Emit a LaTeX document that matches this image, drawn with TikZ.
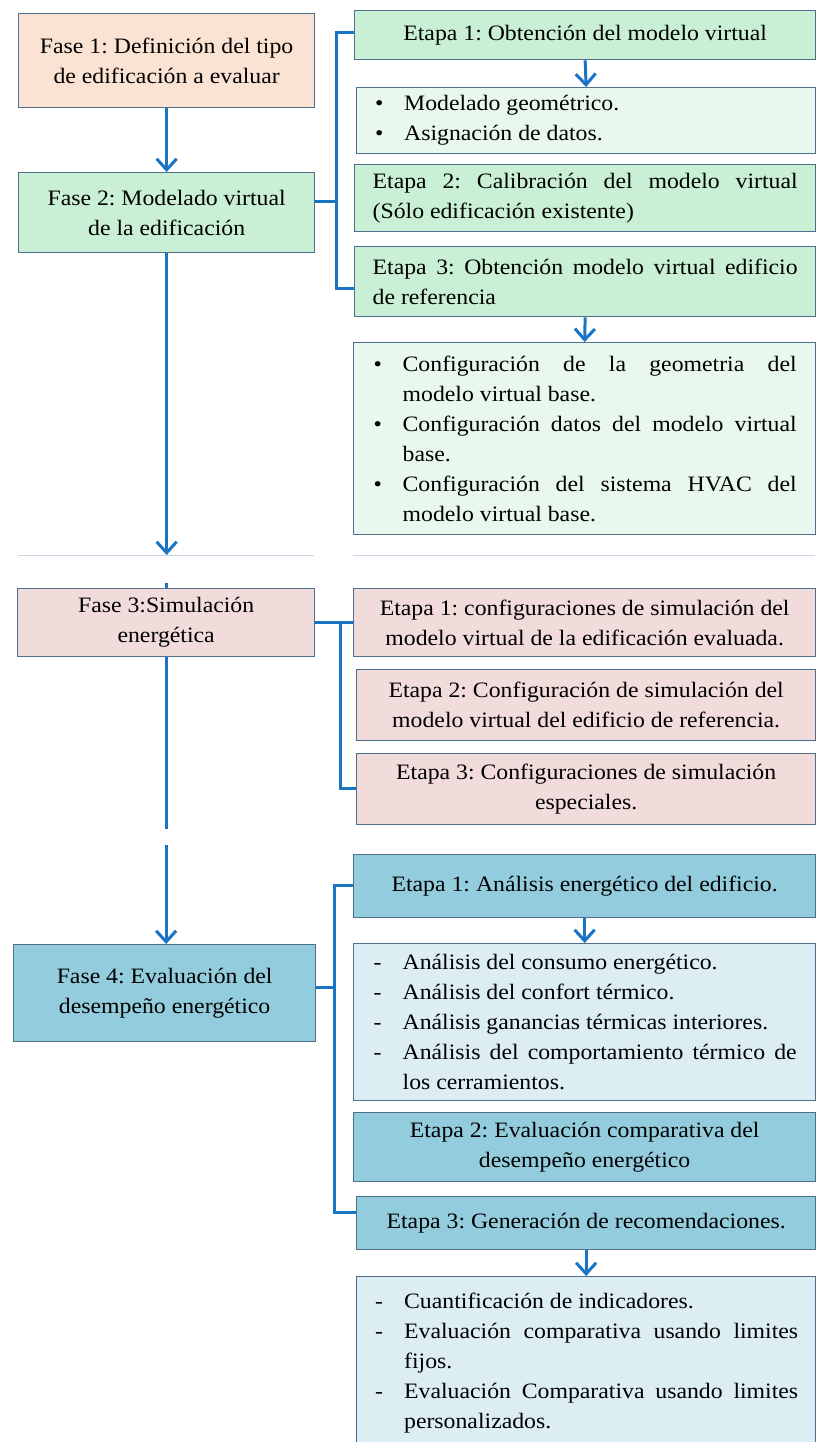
\documentclass[tikz,border=0pt]{standalone}
\usepackage{fontspec}
\setmainfont{Liberation Serif}[FakeStretch=1.08]
\usetikzlibrary{arrows.meta,calc}
\definecolor{peach}{HTML}{FBE3D3}
\definecolor{mint}{HTML}{C9F0D4}
\definecolor{mintlt}{HTML}{E9F8EE}
\definecolor{pinkbox}{HTML}{F2DCDB}
\definecolor{bluebox}{HTML}{93CDDD}
\definecolor{bluelt}{HTML}{DCEEF4}
\definecolor{bordc}{HTML}{4E6E8E}
\definecolor{linec}{HTML}{1A74C4}
\definecolor{faintc}{HTML}{C8D8E8}
\newcommand\bodyfont{\fontsize{22}{30}\selectfont\frenchspacing}
\newcommand\litem[2]{\noindent\hangindent=30pt\hangafter=1\makebox[30pt][l]{\hspace{1pt}#1}#2\par}
\tikzset{
  box/.style={draw=bordc, line width=1.3pt, inner sep=0pt, font=\bodyfont, align=center, anchor=north west},
  jbox/.style={box, text width=425pt, align=justify},
  conn/.style={draw=linec, line width=3pt},
  arr/.style={conn, -{Straight Barb[length=11pt,width=20pt]}},
  faint/.style={draw=faintc, line width=1pt}
}
\begin{document}
\begin{tikzpicture}[x=1pt,y=-1pt]
\clip (0,0) rectangle (817,1442);
\fill[white] (0,0) rectangle (817,1442);
% Fase 1 and 2
\node[box, fill=peach, minimum width=296pt, minimum height=94pt] (F1) at (18,13) {Fase 1: Definición del tipo\\ de edificación a evaluar};
\node[box, fill=mint, minimum width=296pt, minimum height=80pt] (F2) at (18,172) {Fase 2: Modelado virtual\\ de la edificación};
\node[box, fill=mint, minimum width=461pt, minimum height=49pt] (E1a) at (354,10) {Etapa 1: Obtención del modelo virtual};
\node[jbox, fill=mintlt, minimum width=459pt, minimum height=66pt, text width=424pt] (B1) at (356,87) {\litem{•}{Modelado geométrico.}\litem{•}{Asignación de datos.}};
\node[jbox, fill=mint, minimum width=461pt, minimum height=67pt] (E2a) at (354,164) {Etapa 2: Calibración del modelo virtual\linebreak (Sólo edificación existente)};
\node[jbox, fill=mint, minimum width=461pt, minimum height=70pt] (E3a) at (354,246) {Etapa 3: Obtención modelo virtual edificio\linebreak de referencia};
\node[jbox, fill=mintlt, minimum width=462pt, minimum height=192pt, text width=424pt] (B2) at (353,342) {\litem{•}{Configuración de la geometria del\linebreak modelo virtual base.}\litem{•}{Configuración datos del modelo virtual\linebreak base.}\litem{•}{Configuración del sistema HVAC del\linebreak modelo virtual base.}};
% Fase 3
\node[box, fill=pinkbox, minimum width=297pt, minimum height=68pt] (F3) at (17,588) {Fase 3:Simulación\\ energética};
\node[box, fill=pinkbox, minimum width=462pt, minimum height=68pt] (E1b) at (353,588) {Etapa 1: configuraciones de simulación del\\ modelo virtual de la edificación evaluada.};
\node[box, fill=pinkbox, minimum width=459pt, minimum height=71pt] (E2b) at (356,669) {Etapa 2: Configuración de simulación del\\ modelo virtual del edificio de referencia.};
\node[box, fill=pinkbox, minimum width=459pt, minimum height=71pt] (E3b) at (356,753) {Etapa 3: Configuraciones de simulación\\ especiales.};
% Fase 4
\node[box, fill=bluebox, minimum width=302pt, minimum height=97pt] (F4) at (13,944) {Fase 4: Evaluación del\\ desempeño energético};
\node[box, fill=bluebox, minimum width=462pt, minimum height=63pt] (E1c) at (353,854) {Etapa 1: Análisis energético del edificio.};
\node[jbox, fill=bluelt, minimum width=462pt, minimum height=157pt, text width=424pt] (B3) at (353,943) {\litem{-}{Análisis del consumo energético.}\litem{-}{Análisis del confort térmico.}\litem{-}{Análisis ganancias térmicas interiores.}\litem{-}{Análisis del comportamiento térmico de\linebreak los cerramientos.}};
\node[box, fill=bluebox, minimum width=462pt, minimum height=69pt] (E2c) at (353,1112) {Etapa 2: Evaluación comparativa del\\ desempeño energético};
\node[box, fill=bluebox, minimum width=459pt, minimum height=53pt] (E3c) at (356,1196) {Etapa 3: Generación de recomendaciones.};
\node[jbox, fill=bluelt, minimum width=459pt, minimum height=172pt, text width=424pt] (B4) at (356,1276) {\litem{-}{Cuantificación de indicadores.}\litem{-}{Evaluación comparativa usando limites\linebreak fijos.}\litem{-}{Evaluación Comparativa usando limites\linebreak personalizados.}};
% faint page-break lines
\draw[faint] (18,555) -- (314,555);
\draw[faint] (353,555) -- (815,555);
% coordinates
\coordinate (m1) at (166,555);
\coordinate (m2) at (165,583);
\coordinate (m3) at (165,829);
\coordinate (m4) at (165,845);
\coordinate (b2t) at (336,33);
\coordinate (b2m) at (336,202);
\coordinate (b2b) at (336,288);
\coordinate (b3m) at (340,622);
\coordinate (b3b) at (340,788);
\coordinate (b4t) at (334,885);
\coordinate (b4m) at (334,987);
\coordinate (b4b) at (334,1212);
% main chain
\draw[arr] (F1.south) -- (F2.north);
\draw[arr] (F2.south) -- (F2.south |- m1);
\draw[conn] (F3.north |- m2) -- (F3.north);
\draw[conn] (F3.south) -- (F3.south |- m3);
\draw[arr] (F3.south |- m4) -- (F3.south |- F4.north);
% Fase 2 bracket
\draw[conn] (E1a.west |- b2t) -- (b2t) -- (b2b) -- (E3a.west |- b2b);
\draw[conn] (F2.east |- b2m) -- (b2m);
\draw[arr] (E1a.south) -- (B1.north);
\draw[arr] (E3a.south) -- (B2.north);
% Fase 3 bracket
\draw[conn] (F3.east) -- (E1b.west);
\draw[conn] (b3m) -- (b3b) -- (E3b.west |- b3b);
% Fase 4 bracket
\draw[conn] (E1c.west |- b4t) -- (b4t) -- (b4b) -- (E3c.west |- b4b);
\draw[conn] (F4.east |- b4m) -- (b4m);
\draw[arr] (E1c.south) -- (B3.north);
\draw[arr] (E3c.south) -- (B4.north);
\end{tikzpicture}
\end{document}
